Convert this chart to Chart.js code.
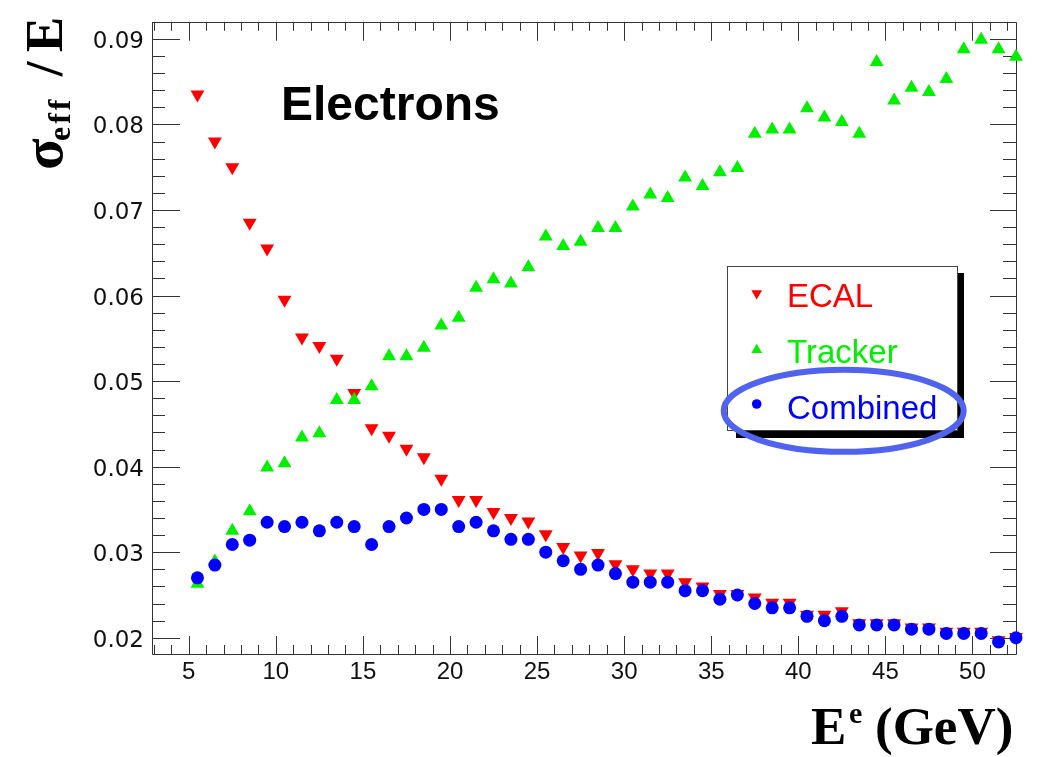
<!DOCTYPE html>
<html>
<head>
<meta charset="utf-8">
<script src="https://cdn.jsdelivr.net/npm/chart.js@4/dist/chart.umd.min.js"></script>
<style>
  html, body { margin: 0; padding: 0; background: #fff; }
  #wrap { width: 1038px; height: 757px; }
</style>
</head>
<body>
<div id="wrap"><canvas id="chart" width="1038" height="757"></canvas></div>
<script>
// bin centres (GeV)
const energies = [5.5, 6.5, 7.5, 8.5, 9.5, 10.5, 11.5, 12.5, 13.5, 14.5, 15.5, 16.5, 17.5, 18.5, 19.5, 20.5,
  21.5, 22.5, 23.5, 24.5, 25.5, 26.5, 27.5, 28.5, 29.5, 30.5, 31.5, 32.5, 33.5, 34.5, 35.5, 36.5,
  37.5, 38.5, 39.5, 40.5, 41.5, 42.5, 43.5, 44.5, 45.5, 46.5, 47.5, 48.5, 49.5, 50.5, 51.5, 52.5];

const ecal = [0.0835, 0.0780, 0.0750, 0.0685, 0.0655, 0.0595, 0.0551, 0.0541, 0.0526, 0.0486, 0.0445, 0.0436,
  0.0421, 0.0411, 0.0386, 0.0361, 0.0361, 0.0347, 0.0340, 0.0336, 0.0321, 0.0306, 0.0296, 0.0299,
  0.0286, 0.0280, 0.0275, 0.0275, 0.0265, 0.0260, 0.0251, 0.0251, 0.0247, 0.0241, 0.0241, 0.0227,
  0.0227, 0.0231, 0.0217, 0.0217, 0.0217, 0.0212, 0.0212, 0.0207, 0.0207, 0.0207, 0.0197, 0.0201];

const tracker = [0.0263, 0.0289, 0.0325, 0.0348, 0.0399, 0.0404, 0.0434, 0.0439, 0.0478, 0.0478, 0.0494, 0.0529,
  0.0529, 0.0539, 0.0565, 0.0574, 0.0609, 0.0619, 0.0614, 0.0633, 0.0669, 0.0658, 0.0663, 0.0679,
  0.0679, 0.0704, 0.0718, 0.0714, 0.0738, 0.0728, 0.0744, 0.0749, 0.0789, 0.0794, 0.0794, 0.0819,
  0.0808, 0.0803, 0.0789, 0.0873, 0.0828, 0.0843, 0.0838, 0.0853, 0.0888, 0.0899, 0.0888, 0.0879];

const combined = [0.0270, 0.0285, 0.0309, 0.0314, 0.0335, 0.0330, 0.0335, 0.0325, 0.0335, 0.0330, 0.0309, 0.0330,
  0.0340, 0.0350, 0.0350, 0.0330, 0.0335, 0.0325, 0.0315, 0.0315, 0.0300, 0.0290, 0.0280, 0.0285,
  0.0275, 0.0265, 0.0265, 0.0265, 0.0255, 0.0255, 0.0245, 0.0250, 0.0240, 0.0235, 0.0235, 0.0225,
  0.0220, 0.0225, 0.0215, 0.0215, 0.0215, 0.0210, 0.0210, 0.0205, 0.0205, 0.0205, 0.0195, 0.0200];

const xTickValues = [5, 10, 15, 20, 25, 30, 35, 40, 45, 50];
const yTickValues = [0.02, 0.03, 0.04, 0.05, 0.06, 0.07, 0.08, 0.09];
const seriesNames = ['ECAL', 'Tracker', 'Combined'];

const toPoints = vals => energies.map((e, i) => ({ x: e, y: vals[i] }));
const SERIF = '"Liberation Serif", "Times New Roman", serif';

function markerPath(ctx, style, x, y, r, down) {
  ctx.beginPath();
  if (style === 'circle') {
    ctx.arc(x, y, r, 0, Math.PI * 2);
  } else {
    const s = down ? -1 : 1;
    ctx.moveTo(x, y - s * r);
    ctx.lineTo(x + r * 0.866, y + s * r * 0.5);
    ctx.lineTo(x - r * 0.866, y + s * r * 0.5);
    ctx.closePath();
  }
  ctx.fill();
}

const framePlugin = {
  id: 'frame',
  beforeDatasetsDraw(chart) {
    const { ctx, chartArea: a, scales: { x: xs, y: ys } } = chart;
    ctx.save();
    ctx.strokeStyle = '#333';
    ctx.lineWidth = 1;
    ctx.beginPath();
    ctx.rect(Math.round(a.left) + 0.5, Math.round(a.top) + 0.5, Math.round(a.right - a.left), Math.round(a.bottom - a.top));
    // x ticks every 1 GeV, long every 5
    for (let v = Math.ceil(xs.min); v <= xs.max; v++) {
      const px = Math.round(xs.getPixelForValue(v)) + 0.5;
      const major = v % 5 === 0;
      ctx.moveTo(px, a.bottom); ctx.lineTo(px, a.bottom - (major ? 18 : 9));
      ctx.moveTo(px, a.top); ctx.lineTo(px, a.top + (major ? 19 : 9));
    }
    // y ticks every 0.002, long every 0.01
    for (let k = Math.ceil(ys.min / 0.002); k * 0.002 <= ys.max; k++) {
      const py = Math.round(ys.getPixelForValue(k * 0.002)) + 0.5;
      const major = k % 5 === 0;
      ctx.moveTo(a.left, py); ctx.lineTo(a.left + (major ? 28 : 13), py);
      ctx.moveTo(a.right, py); ctx.lineTo(a.right - (major ? 26 : 13), py);
    }
    ctx.stroke();
    ctx.restore();
  },
  afterDraw(chart) {
    const { ctx } = chart;
    ctx.save();
    ctx.fillStyle = '#000';
    ctx.textBaseline = 'alphabetic';

    // "Electrons" label
    ctx.font = 'bold 48px "Liberation Sans", Arial, sans-serif';
    ctx.textAlign = 'left';
    ctx.fillText('Electrons', 281, 120);

    // x title: E^e (GeV)
    ctx.font = 'bold 53px ' + SERIF;
    ctx.fillText('E', 811, 744);
    ctx.font = 'bold 30px ' + SERIF;
    ctx.fillText('e', 849, 723);
    ctx.font = 'bold 53px ' + SERIF;
    ctx.fillText('(GeV)', 875, 744);

    // y title: sigma_eff / E (rotated)
    ctx.translate(62, 0);
    ctx.rotate(-Math.PI / 2);
    ctx.font = 'bold 53px ' + SERIF;
    ctx.textAlign = 'right';
    ctx.fillText('E', -17, 0);
    ctx.textAlign = 'center';
    ctx.fillText('/', -69, 0);
    ctx.font = 'bold 32px ' + SERIF;
    ctx.textAlign = 'left';
    ctx.letterSpacing = '3px';
    ctx.fillText('eff', -141, 8);
    ctx.letterSpacing = '0px';
    ctx.font = 'bold 58px ' + SERIF;
    ctx.fillText('σ', -170, 0);
    ctx.restore();

    // legend box with shadow
    ctx.save();
    ctx.fillStyle = '#000';
    ctx.fillRect(736, 430, 228, 8);
    ctx.fillRect(958, 273, 6, 165);
    ctx.fillStyle = '#fff';
    ctx.fillRect(728, 266, 230, 164);
    ctx.strokeStyle = '#444';
    ctx.lineWidth = 1;
    ctx.strokeRect(727.5, 266.5, 230, 164);
    const ds = chart.data.datasets;
    const rows = [293.3, 350, 404];
    const baselines = [306.5, 363, 419];
    ctx.font = '33px "Liberation Sans", Arial, sans-serif';
    ctx.textAlign = 'left';
    ctx.textBaseline = 'alphabetic';
    ds.forEach((d, i) => {
      ctx.fillStyle = d.backgroundColor;
      if (d.pointStyle === 'circle') markerPath(ctx, 'circle', 756.7, rows[i], 4.8, false);
      else markerPath(ctx, 'triangle', 756.7, rows[i], 6.2, d.pointRotation === 180);
      ctx.fillText(seriesNames[i], 787, baselines[i]);
    });

    // highlight ellipse around Combined
    ctx.strokeStyle = '#5063ee';
    ctx.lineWidth = 6;
    ctx.beginPath();
    ctx.ellipse(843.7, 410.8, 120, 41, 0, 0, Math.PI * 2);
    ctx.stroke();
    ctx.restore();
  }
};

new Chart(document.getElementById('chart').getContext('2d'), {
  type: 'scatter',
  data: {
    datasets: [
      { label: seriesNames[0], data: toPoints(ecal), pointStyle: 'triangle', pointRotation: 180,
        pointRadius: 8, backgroundColor: '#ff0000', borderWidth: 0, order: 3, clip: false },
      { label: seriesNames[1], data: toPoints(tracker), pointStyle: 'triangle', pointRotation: 0,
        pointRadius: 8, backgroundColor: '#00f000', borderWidth: 0, order: 2, clip: false },
      { label: seriesNames[2], data: toPoints(combined), pointStyle: 'circle',
        pointRadius: 6.5, backgroundColor: '#0000ff', borderWidth: 0, order: 1, clip: false }
    ]
  },
  options: {
    responsive: false,
    animation: false,
    devicePixelRatio: 1,
    layout: { padding: { left: 0, top: 17, right: 22, bottom: 0 } },
    plugins: { legend: { display: false }, tooltip: { enabled: false } },
    elements: { point: { hoverRadius: 8 } },
    scales: {
      x: {
        type: 'linear', min: 2.89, max: 52.5,
        grid: { display: false, drawTicks: false },
        border: { display: false },
        afterBuildTicks: s => { s.ticks = xTickValues.map(v => ({ value: v })); },
        afterFit: s => { s.height = 103; },
        ticks: { color: '#111', padding: 4, maxRotation: 0, autoSkip: false,
          font: { family: '"Liberation Sans", Arial, sans-serif', size: 24 } }
      },
      y: {
        type: 'linear', min: 0.0181, max: 0.0920,
        grid: { display: false, drawTicks: false },
        border: { display: false },
        afterBuildTicks: s => { s.ticks = yTickValues.map(v => ({ value: v })); },
        afterFit: s => { s.width = 152; },
        ticks: { color: '#111', padding: 8, labelOffset: 3, autoSkip: false,
          font: { family: '"DejaVu Sans", sans-serif', size: 23 },
          callback: v => v.toFixed(2) }
      }
    }
  },
  plugins: [framePlugin]
});
</script>
</body>
</html>
